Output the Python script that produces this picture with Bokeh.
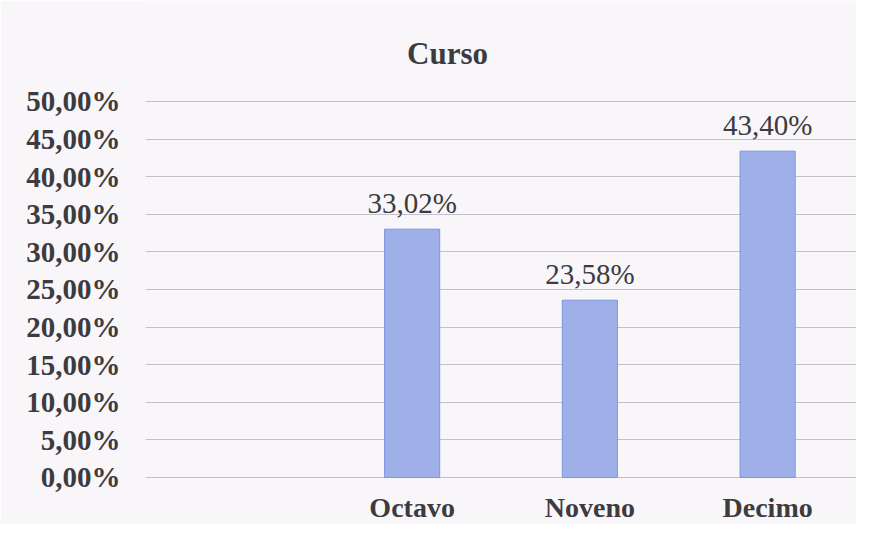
from bokeh.plotting import figure
from bokeh.models import FactorRange, Range1d, FixedTicker, ColumnDataSource, Label, LabelSet
from bokeh.embed import file_html
from bokeh.resources import INLINE

title_text = "Curso"
factors = ["", "Octavo", "Noveno", "Decimo"]
categories = ["Octavo", "Noveno", "Decimo"]
values = [0.3302, 0.2358, 0.4340]
tick_values = [0.0, 0.05, 0.10, 0.15, 0.20, 0.25, 0.30, 0.35, 0.40, 0.45, 0.50]
tick_labels = ["0,00%", "5,00%", "10,00%", "15,00%", "20,00%", "25,00%",
               "30,00%", "35,00%", "40,00%", "45,00%", "50,00%"]

FONT = "Liberation Serif"
TEXT = "#3d3b40"
BG = "#f8f6f9"

# frame spans the full figure height; value axis spans 752 px per unit
p = figure(width=856, height=524, x_range=FactorRange(*factors),
           y_range=Range1d(-0.0625, 0.6343), output_backend="svg", toolbar_location=None,
           min_border_left=145, min_border_right=0, min_border_top=0, min_border_bottom=0)
p.background_fill_color = BG
p.border_fill_color = BG
p.outline_line_color = None

src = ColumnDataSource(dict(x=categories, top=values, zero=[0.0] * len(values),
                            label=[f"{v*100:.2f}%".replace(".", ",") for v in values]))
p.vbar(x="x", top="top", width=0.31, source=src, fill_color="#9fb0e9",
       line_color="#7d96e2", line_width=1)

p.add_layout(LabelSet(x="x", y="top", text="label", source=src, text_align="center",
                      text_baseline="middle", y_offset=26, text_font=FONT,
                      text_font_size="29px", text_color=TEXT))

# category labels below the baseline
p.add_layout(LabelSet(x="x", y="zero", text="x", source=src, text_align="center",
                      text_baseline="middle", y_offset=-30, text_font=FONT,
                      text_font_size="28px", text_font_style="bold", text_color=TEXT))

p.xaxis.visible = False

p.yaxis.ticker = FixedTicker(ticks=tick_values)
p.yaxis.major_label_overrides = {t: l for t, l in zip(tick_values, tick_labels)}
p.yaxis.axis_line_color = None
p.yaxis.major_tick_line_color = None
p.yaxis.major_tick_out = 0
p.yaxis.major_tick_in = 0
p.yaxis.minor_tick_line_color = None
p.yaxis.major_label_standoff = 25
p.yaxis.major_label_text_font = FONT
p.yaxis.major_label_text_font_size = "29px"
p.yaxis.major_label_text_font_style = "bold"
p.yaxis.major_label_text_color = TEXT

p.xgrid.grid_line_color = None
p.ygrid.ticker = FixedTicker(ticks=tick_values)
p.ygrid.grid_line_color = "#c3bfcc"
p.ygrid.grid_line_width = 1

p.add_layout(Label(x=1.699, y=0.5638, text=title_text, text_align="center",
                   text_baseline="middle", text_font=FONT, text_font_size="31px",
                   text_font_style="bold", text_color=TEXT))

open("out.html", "w").write(file_html(p, INLINE))
